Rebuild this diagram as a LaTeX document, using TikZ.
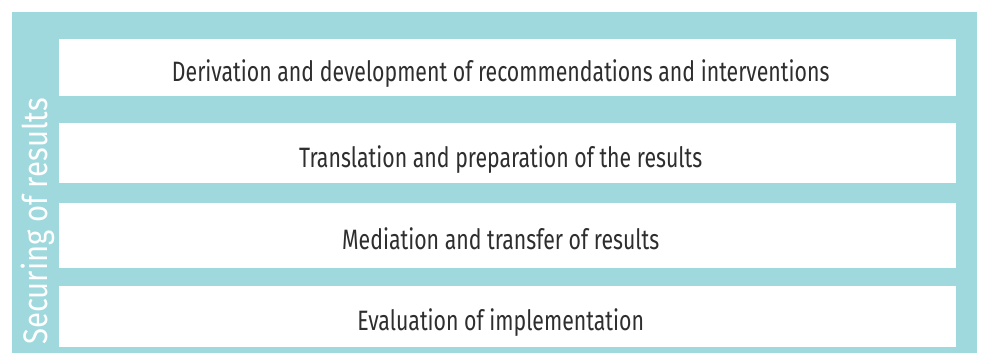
\documentclass[tikz,border=0pt]{standalone}
\usepackage{fontspec}
\setmainfont{Fira Sans}[FakeStretch=0.76]
\newfontfamily\sidefont{Fira Sans}[FakeStretch=0.86]
\usetikzlibrary{positioning}
\definecolor{panelteal}{HTML}{A0D9DD}
\definecolor{stagetext}{HTML}{2E2E2E}

\begin{document}
\begin{tikzpicture}[x=1pt, y=-1pt,
    stage/.style={fill=white, text=stagetext, anchor=north west, inner sep=0pt,
      minimum width=897pt, text height=28pt, text depth=0pt,
      execute at begin node={\hspace*{-14pt}},
      font=\fontsize{28}{32}\selectfont}]
    \useasboundingbox (0,0) rectangle (982,353);
    \fill[panelteal] (12,12) rectangle (977,353);

    \node[stage, minimum height=57pt] (derive)    at (59,39)  {Derivation and development of recommendations and interventions};
    \node[stage, minimum height=60pt] (translate) at (59,123) {Translation and preparation of the results};
    \node[stage, minimum height=65pt] (mediate)   at (59,203) {Mediation and transfer of results};
    \node[stage, minimum height=61pt] (evaluate)  at (59,286) {Evaluation of implementation};

    \node[rotate=90, anchor=base west, inner sep=0pt, text=white,
      font=\sidefont\fontsize{34}{38}\selectfont] (securing) at (47,345) {Securing of results};
  \end{tikzpicture}
\end{document}
